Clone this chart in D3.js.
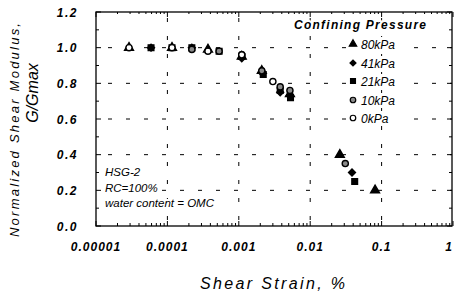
<!DOCTYPE html>
<html>
<head>
<meta charset="utf-8">
<script src="https://d3js.org/d3.v7.min.js"></script>
<style>
  body { margin: 0; background: #fff; }
  svg { display: block; font-family: "Liberation Sans", Arial, sans-serif; }
  .halo { paint-order: stroke; stroke: #fff; stroke-width: 4px; stroke-linejoin: round; }
</style>
</head>
<body>
<svg id="chart" width="455" height="301"></svg>
<script>
// G/Gmax vs shear strain (%), one array per confining pressure
const s80 = [[2.9e-5,1.0],[1.16e-4,1.0],[3.7e-4,0.99],[1.1e-3,0.95],[2.1e-3,0.87],[5.2e-3,0.74],[0.026,0.40],[0.081,0.20]];
const s41 = [[5.9e-5,1.0],[2.2e-4,1.0],[1.1e-3,0.94],[2.1e-3,0.86],[3.8e-3,0.75],[5.2e-3,0.73],[0.0385,0.30]];
const s21 = [[5.9e-5,1.0],[1.16e-4,1.0],[2.2e-4,1.0],[5.3e-4,0.98],[1.1e-3,0.95],[2.2e-3,0.85],[3.8e-3,0.76],[5.3e-3,0.72],[0.042,0.25]];
const s10 = [[2.2e-4,0.99],[5.3e-4,0.98],[1.1e-3,0.96],[2.1e-3,0.87],[3.8e-3,0.78],[5.2e-3,0.76],[0.031,0.35]];
const s0  = [[2.9e-5,1.0],[1.16e-4,1.0],[3.7e-4,0.98],[1.1e-3,0.96],[3.0e-3,0.81]];

const legendLabels = ['80kPa', '41kPa', '21kPa', '10kPa', '0kPa'];
const xTicks = [1e-5, 1e-4, 1e-3, 1e-2, 1e-1, 1];
const xTickLabels = ['0.00001', '0.0001', '0.001', '0.01', '0.1', '1'];
const yTicks = [0, 0.2, 0.4, 0.6, 0.8, 1.0, 1.2];
const notes = ['HSG-2', 'RC=100%', 'water content = OMC'];

const svg = d3.select('#chart');
const L = 96, R = 452, T = 12, B = 226;
const x = d3.scaleLog().domain([1e-5, 1]).range([L, 453]);
const y = d3.scaleLinear().domain([0, 1.2]).range([B, T]);

// dashed grid
const grid = svg.append('g').attr('stroke', '#000').attr('stroke-width', 1)
  .attr('stroke-dasharray', '4,14');
grid.selectAll('line.h').data(yTicks.filter(d => d > 0 && d < 1.2)).join('line')
  .attr('class', 'h').attr('x1', L + 12).attr('x2', R).attr('y1', d => y(d)).attr('y2', d => y(d));
grid.selectAll('line.v').data(xTicks.slice(1, 5)).join('line')
  .attr('class', 'v').attr('x1', d => x(d)).attr('x2', d => x(d)).attr('y1', T + 6).attr('y2', B);

// frame
svg.append('rect').attr('x', L).attr('y', T).attr('width', R - L).attr('height', B - T)
  .attr('fill', 'none').attr('stroke', '#000').attr('stroke-width', 1.3);

// ticks
const tk = svg.append('g').attr('stroke', '#000').attr('stroke-width', 1);
const yMinor = d3.range(0, 1.21, 0.1);
tk.selectAll('line.yl').data(yMinor).join('line').attr('class', 'yl')
  .attr('x1', L).attr('x2', (d, i) => L + (i % 2 ? 3 : 5))
  .attr('y1', d => y(d)).attr('y2', d => y(d));
tk.selectAll('line.yr').data(yMinor).join('line').attr('class', 'yr')
  .attr('x1', R).attr('x2', (d, i) => R - (i % 2 ? 3 : 5))
  .attr('y1', d => y(d)).attr('y2', d => y(d));
const xMinor = x.ticks().filter(d => d <= 1);
const isMajor = d => Math.abs(Math.log10(d) - Math.round(Math.log10(d))) < 1e-6;
tk.selectAll('line.xb').data(xMinor).join('line').attr('class', 'xb')
  .attr('x1', d => x(d)).attr('x2', d => x(d))
  .attr('y1', B).attr('y2', d => B - (isMajor(d) ? 5 : 3));
tk.selectAll('line.xt').data(xMinor).join('line').attr('class', 'xt')
  .attr('x1', d => x(d)).attr('x2', d => x(d))
  .attr('y1', T).attr('y2', d => T + (isMajor(d) ? 5 : 2));

// tick labels
svg.append('g').selectAll('text').data(yTicks).join('text')
  .attr('x', 78).attr('y', d => y(d) + 4.5).attr('text-anchor', 'end')
  .attr('font-size', 12).attr('font-weight', 'bold').attr('font-style', 'italic')
  .attr('letter-spacing', 1.5)
  .text(d => d.toFixed(1));
svg.append('g').selectAll('text').data(xTicks).join('text')
  .attr('x', d => Math.min(x(d), 449)).attr('y', 251).attr('text-anchor', 'middle')
  .attr('font-size', 12).attr('font-weight', 'bold').attr('font-style', 'italic')
  .attr('letter-spacing', 1)
  .text((d, i) => xTickLabels[i]);

// axis titles
svg.append('text').attr('transform', 'translate(19,130) rotate(-90)')
  .attr('text-anchor', 'middle').attr('font-size', 13).attr('font-style', 'italic')
  .attr('textLength', 214).attr('lengthAdjust', 'spacing')
  .text('Normalized Shear Modulus,');
svg.append('text').attr('transform', 'translate(38,93) rotate(-90)')
  .attr('text-anchor', 'middle').attr('font-size', 16).attr('font-style', 'italic')
  .text('G/Gmax');
svg.append('text').attr('x', 200).attr('y', 289)
  .attr('font-size', 16).attr('font-style', 'italic')
  .attr('textLength', 145).attr('lengthAdjust', 'spacing')
  .text('Shear  Strain, %');

// markers (diamond = square turned 45 degrees)
const sym = {
  tri: d3.symbol().type(d3.symbolTriangle).size(34),
  dia: d3.symbol().type(d3.symbolSquare).size(24),
  sq: d3.symbol().type(d3.symbolSquare).size(32),
  circ: d3.symbol().type(d3.symbolCircle).size(30)
};
const styles = [
  { data: s80, path: sym.tri, rot: 0, fill: '#000', stroke: '#000' },
  { data: s41, path: sym.dia, rot: 45, fill: '#000', stroke: '#000' },
  { data: s21, path: sym.sq, rot: 0, fill: '#000', stroke: '#000' },
  { data: s10, path: sym.circ, rot: 0, fill: '#8a8a8a', stroke: '#000' },
  { data: s0, path: sym.circ, rot: 0, fill: '#fff', stroke: '#000' }
];
styles.forEach(s => {
  svg.append('g').selectAll('path').data(s.data).join('path')
    .attr('transform', d => `translate(${x(d[0])},${y(d[1])}) rotate(${s.rot})`)
    .attr('d', s.path()).attr('fill', s.fill).attr('stroke', s.stroke).attr('stroke-width', 1.4);
});

// legend
svg.append('text').attr('x', 294).attr('y', 29).attr('class', 'halo')
  .attr('font-size', 12).attr('font-style', 'italic').attr('font-weight', 'bold')
  .attr('textLength', 132).attr('lengthAdjust', 'spacing')
  .text('Confining Pressure');
const legY = [44, 63, 81, 100, 118];
styles.forEach((s, i) => {
  svg.append('rect').attr('x', 346).attr('y', legY[i] - 7).attr('width', 56).attr('height', 14)
    .attr('fill', '#fff');
  svg.append('path').attr('transform', `translate(353,${legY[i]}) rotate(${s.rot})`)
    .attr('d', s.path.size(s.rot ? 18 : 24)()).attr('fill', s.fill).attr('stroke', s.stroke).attr('stroke-width', 1.2);
  svg.append('text').attr('x', 361).attr('y', legY[i] + 4.5)
    .attr('font-size', 12).attr('font-style', 'italic')
    .text(legendLabels[i]);
});

// notes
svg.append('g').selectAll('text').data(notes).join('text')
  .attr('class', 'halo')
  .attr('x', 105).attr('y', (d, i) => 176 + i * 15.5)
  .attr('font-size', 11.5).attr('font-style', 'italic')
  .text(d => d);
</script>
</body>
</html>
